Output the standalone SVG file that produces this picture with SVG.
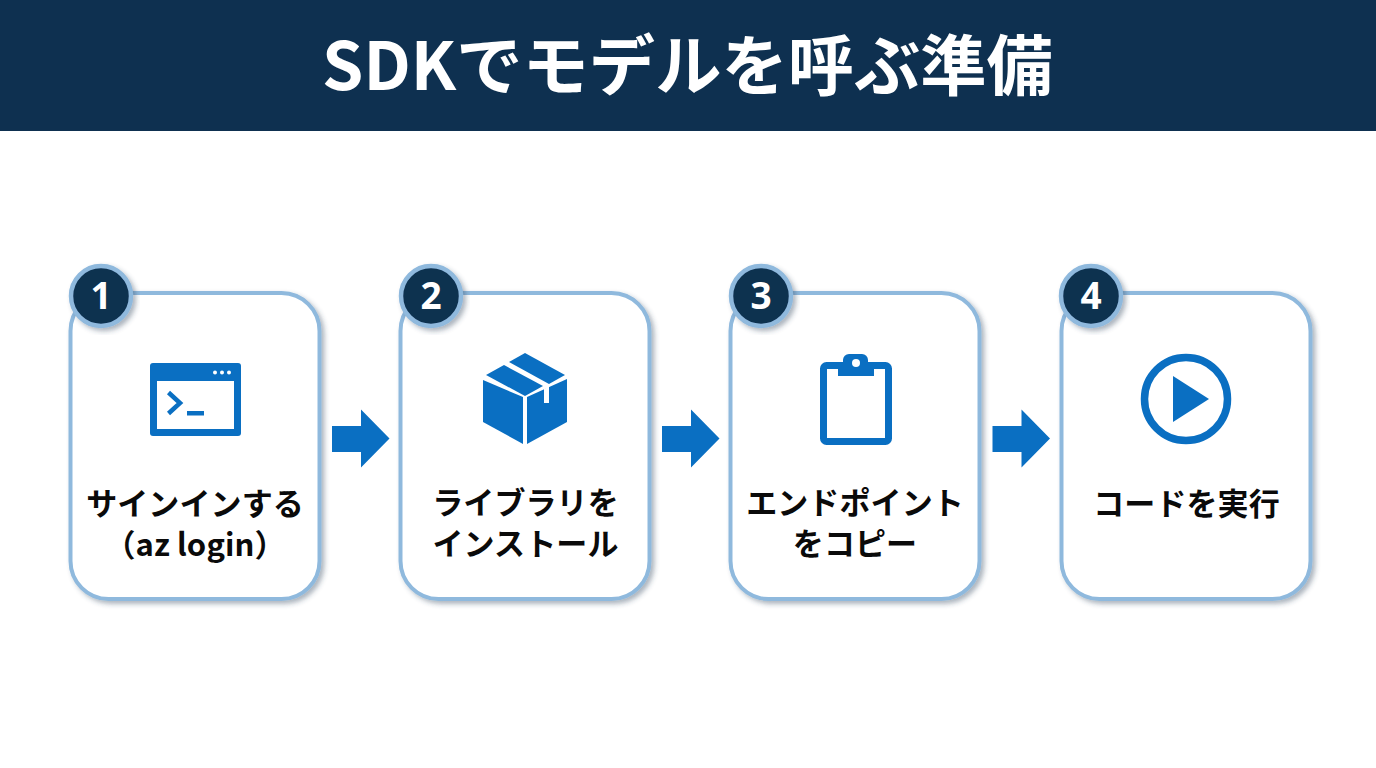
<svg xmlns="http://www.w3.org/2000/svg" width="1376" height="768" viewBox="0 0 1376 768">
<style>
text{font-family:"Noto Sans CJK JP","Noto Sans",sans-serif;font-weight:700;text-anchor:middle}
.title{font-size:66.300px;fill:#fff}
.label{font-size:31px;letter-spacing:.1px;fill:#0a0a0a}
.num{font-size:37px;fill:#fff;font-family:"Noto Sans","Noto Sans CJK JP",sans-serif}
.card{fill:#fff;stroke:#8fb9dd;stroke-width:4}
.badge{fill:#0e3050;stroke:#8fb9dd;stroke-width:4.500}
.ic{fill:#0a6fc2}
.ico{fill:none;stroke:#0a6fc2}
</style>
<defs>
<filter id="s" x="-10%" y="-10%" width="125%" height="125%"><feDropShadow dx="3" dy="3" stdDeviation="2.500" flood-color="#33475b" flood-opacity=".4"/></filter>
<polygon id="arrow" class="ic" points="0,-12.500 29,-12.500 29,-29 57.500,0 29,29 29,13.500 0,13.500"/>
</defs>
<rect width="1376" height="768" fill="#fff"/>
<g id="header"><rect width="1376" height="131" fill="#0e3050"/><text class="title" x="687.500" y="90">SDKでモデルを呼ぶ準備</text></g>
<g id="connectors">
<use href="#arrow" x="332" y="438.500"/>
<use href="#arrow" x="662" y="438.500"/>
<use href="#arrow" x="992.500" y="438.500"/>
</g>
<g id="node1">
<rect class="card" filter="url(#s)" x="70.500" y="293" width="249" height="306" rx="38"/>
<circle class="badge" filter="url(#s)" cx="101" cy="296" r="30"/>
<text class="num" x="101" y="309">1</text>
<rect class="ic" x="150" y="363" width="91" height="73" rx="3"/>
<rect x="157" y="381" width="77" height="48" fill="#fff"/>
<g fill="#fff"><circle cx="215" cy="372.500" r="2"/><circle cx="222" cy="372.500" r="2"/><circle cx="229" cy="372.500" r="2"/></g>
<path class="ico" stroke-width="4.500" d="M168.500 392.500 180 403 168.500 413.500"/>
<rect class="ic" x="187" y="411" width="17" height="4.500"/>
<text class="label" x="195" y="515">サインインする</text>
<text class="label" x="195" y="556">（az login）</text>
</g>
<g id="node2">
<rect class="card" filter="url(#s)" x="400.500" y="293" width="249" height="306" rx="38"/>
<circle class="badge" filter="url(#s)" cx="431" cy="296" r="30"/>
<text class="num" x="431" y="309">2</text>
<g class="ic">
<polygon points="483,380 523,397 523,444 483,422"/>
<polygon points="527,397 567,379 567,422 527,444"/>
<polygon points="486,375 504,365 543,386 525,396"/>
<polygon points="509,362 525,353 565,375 549,384"/>
</g>
<polygon points="544,389 549,386 549,403 544,403" fill="#fff"/>
<text class="label" x="525.500" y="514">ライブラリを</text>
<text class="label" x="525.500" y="555">インストール</text>
</g>
<g id="node3">
<rect class="card" filter="url(#s)" x="730.500" y="293" width="249" height="306" rx="38"/>
<circle class="badge" filter="url(#s)" cx="761" cy="296" r="30"/>
<text class="num" x="761" y="309">3</text>
<rect class="ico" stroke-width="7" x="823.500" y="365.500" width="65" height="76" rx="3"/>
<path class="ic" d="M838 362h5v-2a6 6 0 0 1 6-6h13a6 6 0 0 1 6 6v2h6v14h-36z"/>
<circle cx="856" cy="363" r="4" fill="#fff"/>
<text class="label" x="855" y="514">エンドポイント</text>
<text class="label" x="855" y="555">をコピー</text>
</g>
<g id="node4">
<rect class="card" filter="url(#s)" x="1061.500" y="293" width="249" height="306" rx="38"/>
<circle class="badge" filter="url(#s)" cx="1091" cy="296" r="30"/>
<text class="num" x="1091" y="309">4</text>
<circle class="ico" stroke-width="7.500" cx="1186" cy="399" r="41.500"/>
<polygon class="ic" points="1173,376 1209,399 1173,422"/>
<text class="label" x="1186.500" y="515">コードを実行</text>
</g>
</svg>
